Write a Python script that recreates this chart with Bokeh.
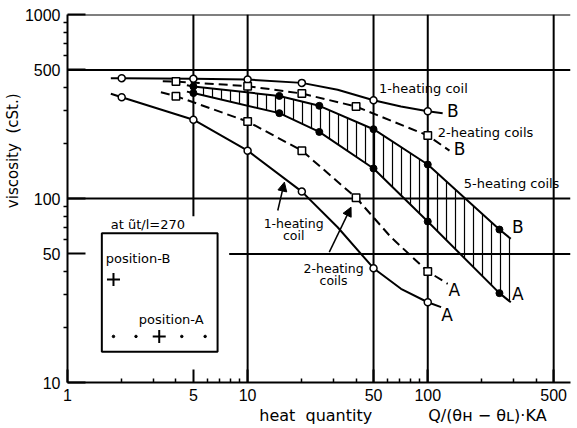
from bokeh.plotting import figure
from bokeh.models import (FixedTicker, CustomJSTickFormatter, BoxAnnotation, Label,
                          Arrow, NormalHead)
from bokeh.embed import file_html
from bokeh.resources import INLINE

# ---------------- data ----------------
# heat quantity Q/(thH - thL)KA  vs  viscosity (cSt.)
# 1-heating coil, position B (open circles, solid)
c1B_x = [2, 5, 10, 20, 50, 100]
c1B_y = [451, 447, 443, 425, 342, 298]
c1B_trace_x = [1.74, 31.6, 71, 121]          # extra points (unmarked)
c1B_trace_y = [451, 390, 316, 291]
# 1-heating coil, position A (open circles, solid)
c1A_x = [2, 5, 10, 20, 50, 100]
c1A_y = [355, 268, 182, 109, 41.8, 27.3]
c1A_trace_x = [1.74, 31.6, 71, 118.6]
c1A_trace_y = [371, 69.8, 32.3, 25.7]
# 2-heating coils, position B (open squares, dashed)
c2B_x = [4, 10, 20, 40, 100]
c2B_y = [432, 408, 372, 316, 220]
c2B_trace_x = [3.38, 132]
c2B_trace_y = [434, 182]
# 2-heating coils, position A (open squares, dashed)
c2A_x = [4, 10, 20, 40, 100]
c2A_y = [360, 262, 182, 101, 40.1]
c2A_trace_x = [3.3, 62.5, 129]
c2A_trace_y = [378, 61.6, 34.4]
# 5-heating coils, position B / A (filled circles, solid, hatched band between)
c5_x = [5, 15, 25, 50, 100, 250]
c5B_y = [406, 361, 319, 238, 153, 67.8]
c5A_y = [374, 291, 230, 145.6, 75, 30.6]
c5_trace_x = [4.6, 289]
c5B_trace_y = [412, 60.4]
c5A_trace_y = [381, 27.3]

x_ticks = [1, 5, 10, 50, 100, 500]
x_minor = [2, 3, 4, 6, 7, 8, 9, 20, 30, 40, 60, 70, 80, 90, 200, 300, 400]
y_ticks = [10, 50, 100, 500, 1000]
y_minor = [20, 30, 40, 60, 70, 80, 90, 200, 300, 400, 600, 700, 800, 900]

FONT = "DejaVu Sans"
TICKFONT = "Liberation Sans"
NB = "\u00a0"

p = figure(width=577, height=428, x_axis_type="log", y_axis_type="log",
           x_range=(1, 620), y_range=(10, 1000),
           output_backend="svg", toolbar_location=None,
           min_border_left=67, min_border_right=7, min_border_top=14, min_border_bottom=46)
p.outline_line_color = None
p.grid.visible = False
p.background_fill_color = "white"

for ax, tk, mn in ((p.xaxis, x_ticks, x_minor), (p.yaxis, y_ticks, y_minor)):
    ax.ticker = FixedTicker(ticks=tk, minor_ticks=mn)
    ax.formatter = CustomJSTickFormatter(code="return String(tick)")
    ax.axis_line_width = 2
    ax.axis_line_color = "black"
    ax.major_tick_line_width = 2
    ax.major_tick_line_color = "black"
    ax.minor_tick_line_color = "black"
    ax.minor_tick_line_width = 1.5
    ax.major_label_text_font = TICKFONT
    ax.major_label_text_font_size = "16px"
    ax.major_label_text_color = "black"
    ax.axis_label_text_font = FONT
    ax.axis_label_text_font_size = "16px"
    ax.axis_label_text_font_style = "normal"
    ax.axis_label_text_color = "black"

p.xaxis.major_tick_in = 13
p.xaxis.major_tick_out = 0
p.xaxis.minor_tick_in = 4
p.xaxis.minor_tick_out = 0
p.xaxis.major_label_standoff = 6
p.xaxis.axis_label_standoff = 2
p.xaxis.axis_label = NB * 33 + "heat" + NB * 2 + "quantity" + NB * 11 + "Q/(θʜ − θʟ)·KA"
p.yaxis.major_tick_in = 18
p.yaxis.major_tick_out = 0
p.yaxis.minor_tick_in = 0
p.yaxis.minor_tick_out = 4
p.yaxis.major_label_standoff = 3
p.yaxis.axis_label_standoff = 0
p.yaxis.axis_label_text_font_size = "15px"
p.yaxis.axis_label = NB * 20 + "viscosity" + NB * 2 + "(cSt.)"

# ---------------- reference lines ----------------
vx = [10, 50, 100, 500]
p.segment(x0=vx, y0=[10] * 4, x1=vx, y1=[1000] * 4, line_color="black", line_width=2)
hy = [100, 500, 1000]
p.segment(x0=[1] * 3, y0=hy, x1=[620] * 3, y1=hy, line_color="black", line_width=2)
p.segment(x0=[5], y0=[80], x1=[5], y1=[1000], line_color="black", line_width=2)
p.segment(x0=[7.9], y0=[50], x1=[620], y1=[50], line_color="black", line_width=2)

# ---------------- hatched band (5 heating coils) ----------------
band_x = [c5_trace_x[0]] + c5_x + [c5_trace_x[1]]
band_B = [c5B_trace_y[0]] + c5B_y + [c5B_trace_y[1]]
band_A = [c5A_trace_y[0]] + c5A_y + [c5A_trace_y[1]]
p.varea(x=band_x, y1=band_A, y2=band_B, fill_alpha=0, hatch_pattern="|",
        hatch_scale=9, hatch_weight=1.2, hatch_color="black")


def curve(xs, ys, tx, ty, dash):
    pts = sorted(zip(xs + tx, ys + ty))
    p.line([a for a, _ in pts], [b for _, b in pts], line_color="black",
           line_width=2, line_dash=dash)


curve(c1B_x, c1B_y, c1B_trace_x, c1B_trace_y, "solid")
curve(c1A_x, c1A_y, c1A_trace_x, c1A_trace_y, "solid")
curve(c2B_x, c2B_y, c2B_trace_x, c2B_trace_y, "9 5")
curve(c2A_x, c2A_y, c2A_trace_x, c2A_trace_y, "9 5")
curve(c5_x, c5B_y, c5_trace_x, c5B_trace_y, "solid")
curve(c5_x, c5A_y, c5_trace_x, c5A_trace_y, "solid")

for xs, ys in ((c1B_x, c1B_y), (c1A_x, c1A_y)):
    p.scatter(xs, ys, marker="circle", size=7, fill_color="white", line_color="black", line_width=1.5)
for xs, ys in ((c2B_x, c2B_y), (c2A_x, c2A_y)):
    p.scatter(xs, ys, marker="square", size=7.5, fill_color="white", line_color="black", line_width=1.5)
for ys in (c5B_y, c5A_y):
    p.scatter(c5_x, ys, marker="circle", size=7, fill_color="black", line_color="black")

# ---------------- inset box (positions) ----------------
p.add_layout(BoxAnnotation(left=1.551, right=6.81, bottom=14.7, top=64.8,
                           fill_color="white", fill_alpha=1, line_color="black",
                           line_alpha=1, line_width=2, level="annotation"))
p.scatter([1.80, 3.23], [36.3, 17.8], marker="cross", size=13, line_color="black",
          line_width=2, level="overlay")
p.scatter([1.80, 2.40, 4.31, 5.81], [17.8] * 4, marker="circle", size=2.5,
          fill_color="black", line_color="black", level="overlay")


def lab(x, y, text, size="13px", align="left"):
    p.add_layout(Label(x=x, y=y, text=text, text_font=FONT, text_font_size=size,
                       text_align=align, text_baseline="middle", text_color="black"))


lab(1.74, 72.2, "at ũt/l=270")
lab(1.63, 47.2, "position-B")
lab(2.49, 22.0, "position-A")

# ---------------- curve labels ----------------
lab(53.6, 396, "1-heating coil")
lab(113.6, 229, "2-heating coils")
lab(158.5, 120, "5-heating coils")
for x, y, t in ((137.7, 298, "B"), (150, 186, "B"), (316, 69.8, "B"),
                (140.5, 31.9, "A"), (128, 23.4, "A"), (316, 30.3, "A")):
    lab(x, y, t, size="17px", align="center")
lab(18.0, 73.1, "1-heating", size="12.5px", align="center")
lab(18.0, 62.9, "coil", size="12.5px", align="center")
lab(30.0, 41.7, "2-heating", size="12.5px", align="center")
lab(30.0, 35.8, "coils", size="12.5px", align="center")
for (xs, ys, xe, ye) in ((14.7, 86.1, 16.0, 122.7), (28.4, 51.1, 37.5, 89.7)):
    p.add_layout(Arrow(x_start=xs, y_start=ys, x_end=xe, y_end=ye, line_width=1.5,
                       end=NormalHead(size=9, fill_color="black", line_color="black")))

open("out.html", "w").write(file_html(p, INLINE))
